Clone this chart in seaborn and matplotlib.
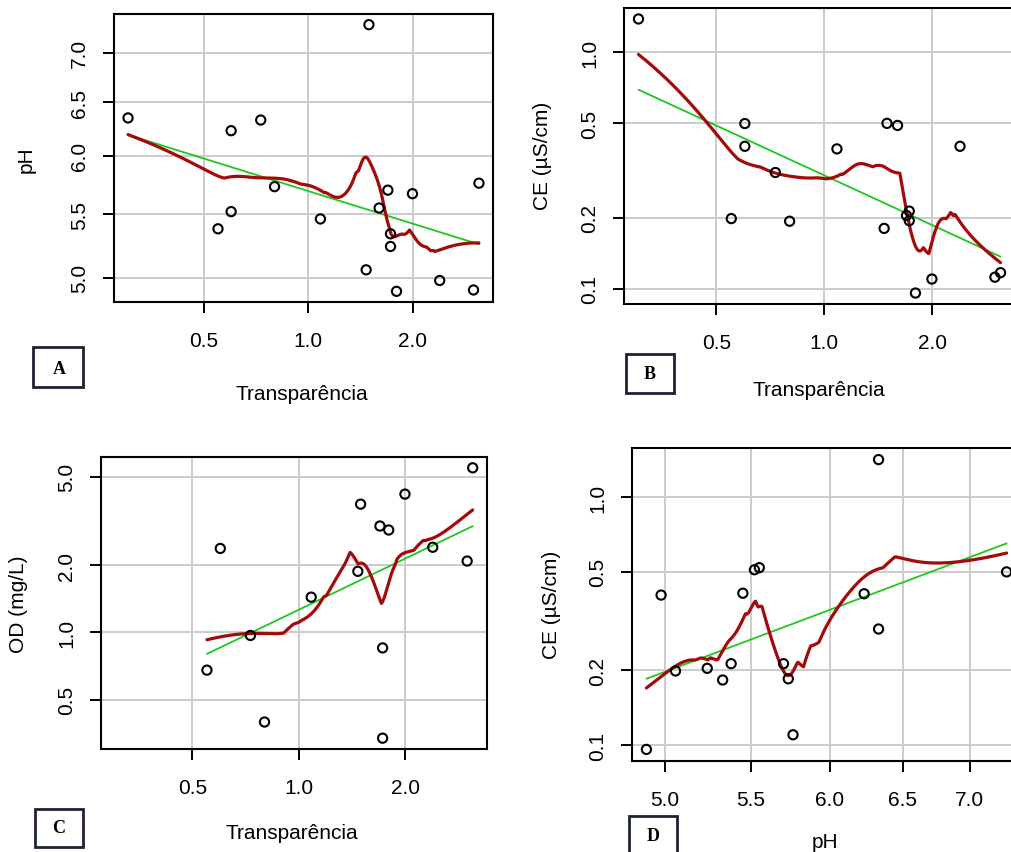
import numpy as np
import matplotlib
matplotlib.use("Agg")
import matplotlib.pyplot as plt
from matplotlib.patches import Rectangle
from matplotlib.ticker import NullLocator
import seaborn as sns

# ---------------- data ----------------
transparencia = [0.303, 0.55, 0.60, 0.60, 0.73, 0.80, 1.084, 1.468, 1.495, 1.60,
                 1.695, 1.725, 1.725, 1.795, 1.995, 2.39, 2.99, 3.10]
ph = [6.35, 5.38, 6.23, 5.52, 6.33, 5.73, 5.46, 5.06, 7.30, 5.55,
      5.70, 5.34, 5.24, 4.90, 5.67, 4.98, 4.91, 5.76]
ce = [1.38, 0.198, 0.499, 0.40, 0.31, 0.193, 0.39, 0.18, 0.50, 0.49,
      0.204, 0.213, 0.194, 0.096, 0.11, 0.40, 0.112, 0.117]
od = [np.nan, 0.678, 2.38, np.nan, 0.97, 0.397, 1.44, 1.88, 3.76, np.nan,
      3.0, 0.853, 0.336, 2.88, 4.17, 2.41, 2.09, 5.47]
ph_d = [4.90, 4.98, 5.06, 5.24, 5.33, 5.38, 5.45, 5.52, 5.55, 5.70,
        5.73, 5.76, 6.23, 6.33, 6.33, 7.29]
ce_d = [0.096, 0.403, 0.199, 0.204, 0.183, 0.213, 0.41, 0.51, 0.52, 0.213,
        0.185, 0.11, 0.408, 0.294, 1.42, 0.50]

transp_ticks = [0.5, 1.0, 2.0]
ph_ticks = [5.0, 5.5, 6.0, 6.5, 7.0]
ce_ticks = [0.1, 0.2, 0.5, 1.0]
od_ticks = [0.5, 1.0, 2.0, 5.0]

# ---------------- style ----------------
sns.set_theme(style="ticks")
plt.rcParams['font.family'] = ['Liberation Sans', 'DejaVu Sans']
plt.rcParams['text.color'] = 'black'
FS = 15

W, H = 1012, 853
fig = plt.figure(figsize=(W / 100, H / 100), dpi=100)
fig.patch.set_facecolor('white')


def add_ax(l, t, r, b):
    return fig.add_axes([l / W, 1 - b / H, (r - l) / W, (b - t) / H])


def r_lim(v):
    v = np.log10(np.asarray(v, float))
    v = v[np.isfinite(v)]
    lo, hi = v.min(), v.max()
    w = hi - lo
    return 10 ** (lo - 0.04 * w), 10 ** (hi + 0.04 * w)


def knn_smooth(x, y, k=7, f=0.5):
    """Local-linear smoother (Gaussian kernel, nearest-neighbour bandwidth) in log space."""
    lx, ly = np.log10(x), np.log10(y)
    grid = np.linspace(lx.min(), lx.max(), 400)
    out = []
    for g in grid:
        d = np.abs(lx - g)
        h = max(np.sort(d)[k - 1] * f, 1e-3)
        w = np.exp(-0.5 * (d / h) ** 2)
        X = np.column_stack([np.ones_like(lx), lx - g])
        WX = X * w[:, None]
        beta = np.linalg.lstsq(WX.T @ X + 1e-9 * np.eye(2), WX.T @ ly,
                               rcond=None)[0]
        out.append(beta[0])
    return 10 ** grid, 10 ** np.array(out)


def linfit(x, y):
    lx, ly = np.log10(x), np.log10(y)
    b, a = np.polyfit(lx, ly, 1)
    gx = np.linspace(lx.min(), lx.max(), 50)
    return 10 ** gx, 10 ** (a + b * gx)


def panel(ax, x, y, xt, yt):
    x = np.asarray(x, float)
    y = np.asarray(y, float)
    xlim = r_lim(x)
    ylim = r_lim(y)
    m = np.isfinite(x) & np.isfinite(y)
    x, y = x[m], y[m]
    ax.set_xscale('log')
    ax.set_yscale('log')
    ax.grid(True, color='#cccccc', lw=1.4)
    ax.set_axisbelow(True)
    sns.scatterplot(x=x, y=y, ax=ax, marker='o', s=44, linewidth=1.5,
                    color='black', zorder=4)
    pts = ax.collections[-1]
    pts.set_facecolor('none')
    pts.set_edgecolor('black')
    gx, gy = linfit(x, y)
    sns.lineplot(x=gx, y=gy, ax=ax, color='#1ec81e', lw=1.3, sort=False,
                 estimator=None, zorder=3)
    sx, sy = knn_smooth(x, y)
    sns.lineplot(x=sx, y=sy, ax=ax, color='#a50a0a', lw=2.3, sort=False,
                 estimator=None, zorder=3)
    ax.set_xlim(xlim)
    ax.set_ylim(ylim)
    ax.set_xticks(xt)
    ax.set_xticklabels([f"{v:.1f}" for v in xt], fontsize=FS)
    ax.set_yticks(yt)
    ax.set_yticklabels([f"{v:.1f}" for v in yt], fontsize=FS, rotation=90,
                       va='center')
    ax.xaxis.set_minor_locator(NullLocator())
    ax.yaxis.set_minor_locator(NullLocator())
    ax.tick_params(axis='both', length=8, width=1.4, colors='black',
                   labelcolor='black')
    ax.tick_params(axis='x', pad=13)
    ax.tick_params(axis='y', pad=10)
    for s in ax.spines.values():
        s.set_visible(True)
        s.set_linewidth(1.5)
        s.set_color('black')
    ax.set_xlabel('')
    ax.set_ylabel('')


def ftext(x, y, s, rot=0, **kw):
    fig.text(x / W, 1 - y / H, s, ha='center', va='center', rotation=rot,
             fontsize=FS, color='black', **kw)


def tag(l, t, r, b, s, cx, cy):
    fig.add_artist(Rectangle((l / W, 1 - b / H), (r - l) / W, (b - t) / H,
                             transform=fig.transFigure, fill=False,
                             edgecolor='#1c2333', lw=2.0))
    fig.text(cx / W, 1 - cy / H, s, ha='center', va='center', fontsize=13,
             fontweight='bold', color='black',
             family=['Liberation Serif', 'DejaVu Serif'])


axA = add_ax(114, 15, 493, 303)
panel(axA, transparencia, ph, transp_ticks, ph_ticks)
axB = add_ax(624, 9, 1015, 305)
panel(axB, transparencia, ce, transp_ticks, ce_ticks)
axC = add_ax(101, 458, 487, 750)
panel(axC, transparencia, od, transp_ticks, od_ticks)
axD = add_ax(632, 449, 1021, 762)
panel(axD, ph_d, ce_d, ph_ticks, ce_ticks)

ftext(302, 395, 'Transparência')
ftext(26, 160, 'pH', rot=90)
ftext(819, 391, 'Transparência')
ftext(542, 156, 'CE (µS/cm)', rot=90)
ftext(292, 834, 'Transparência')
ftext(19, 604, 'OD (mg/L)', rot=90)
ftext(825, 843, 'pH')
ftext(552, 605, 'CE (µS/cm)', rot=90)

tag(33, 348, 83, 388, 'A', 59, 370)
tag(626, 355, 674, 394, 'B', 650, 375)
tag(35, 810, 83, 848, 'C', 59, 829)
tag(629, 817, 677, 858, 'D', 653, 837)

fig.savefig('out.png', dpi=100, facecolor='white')
